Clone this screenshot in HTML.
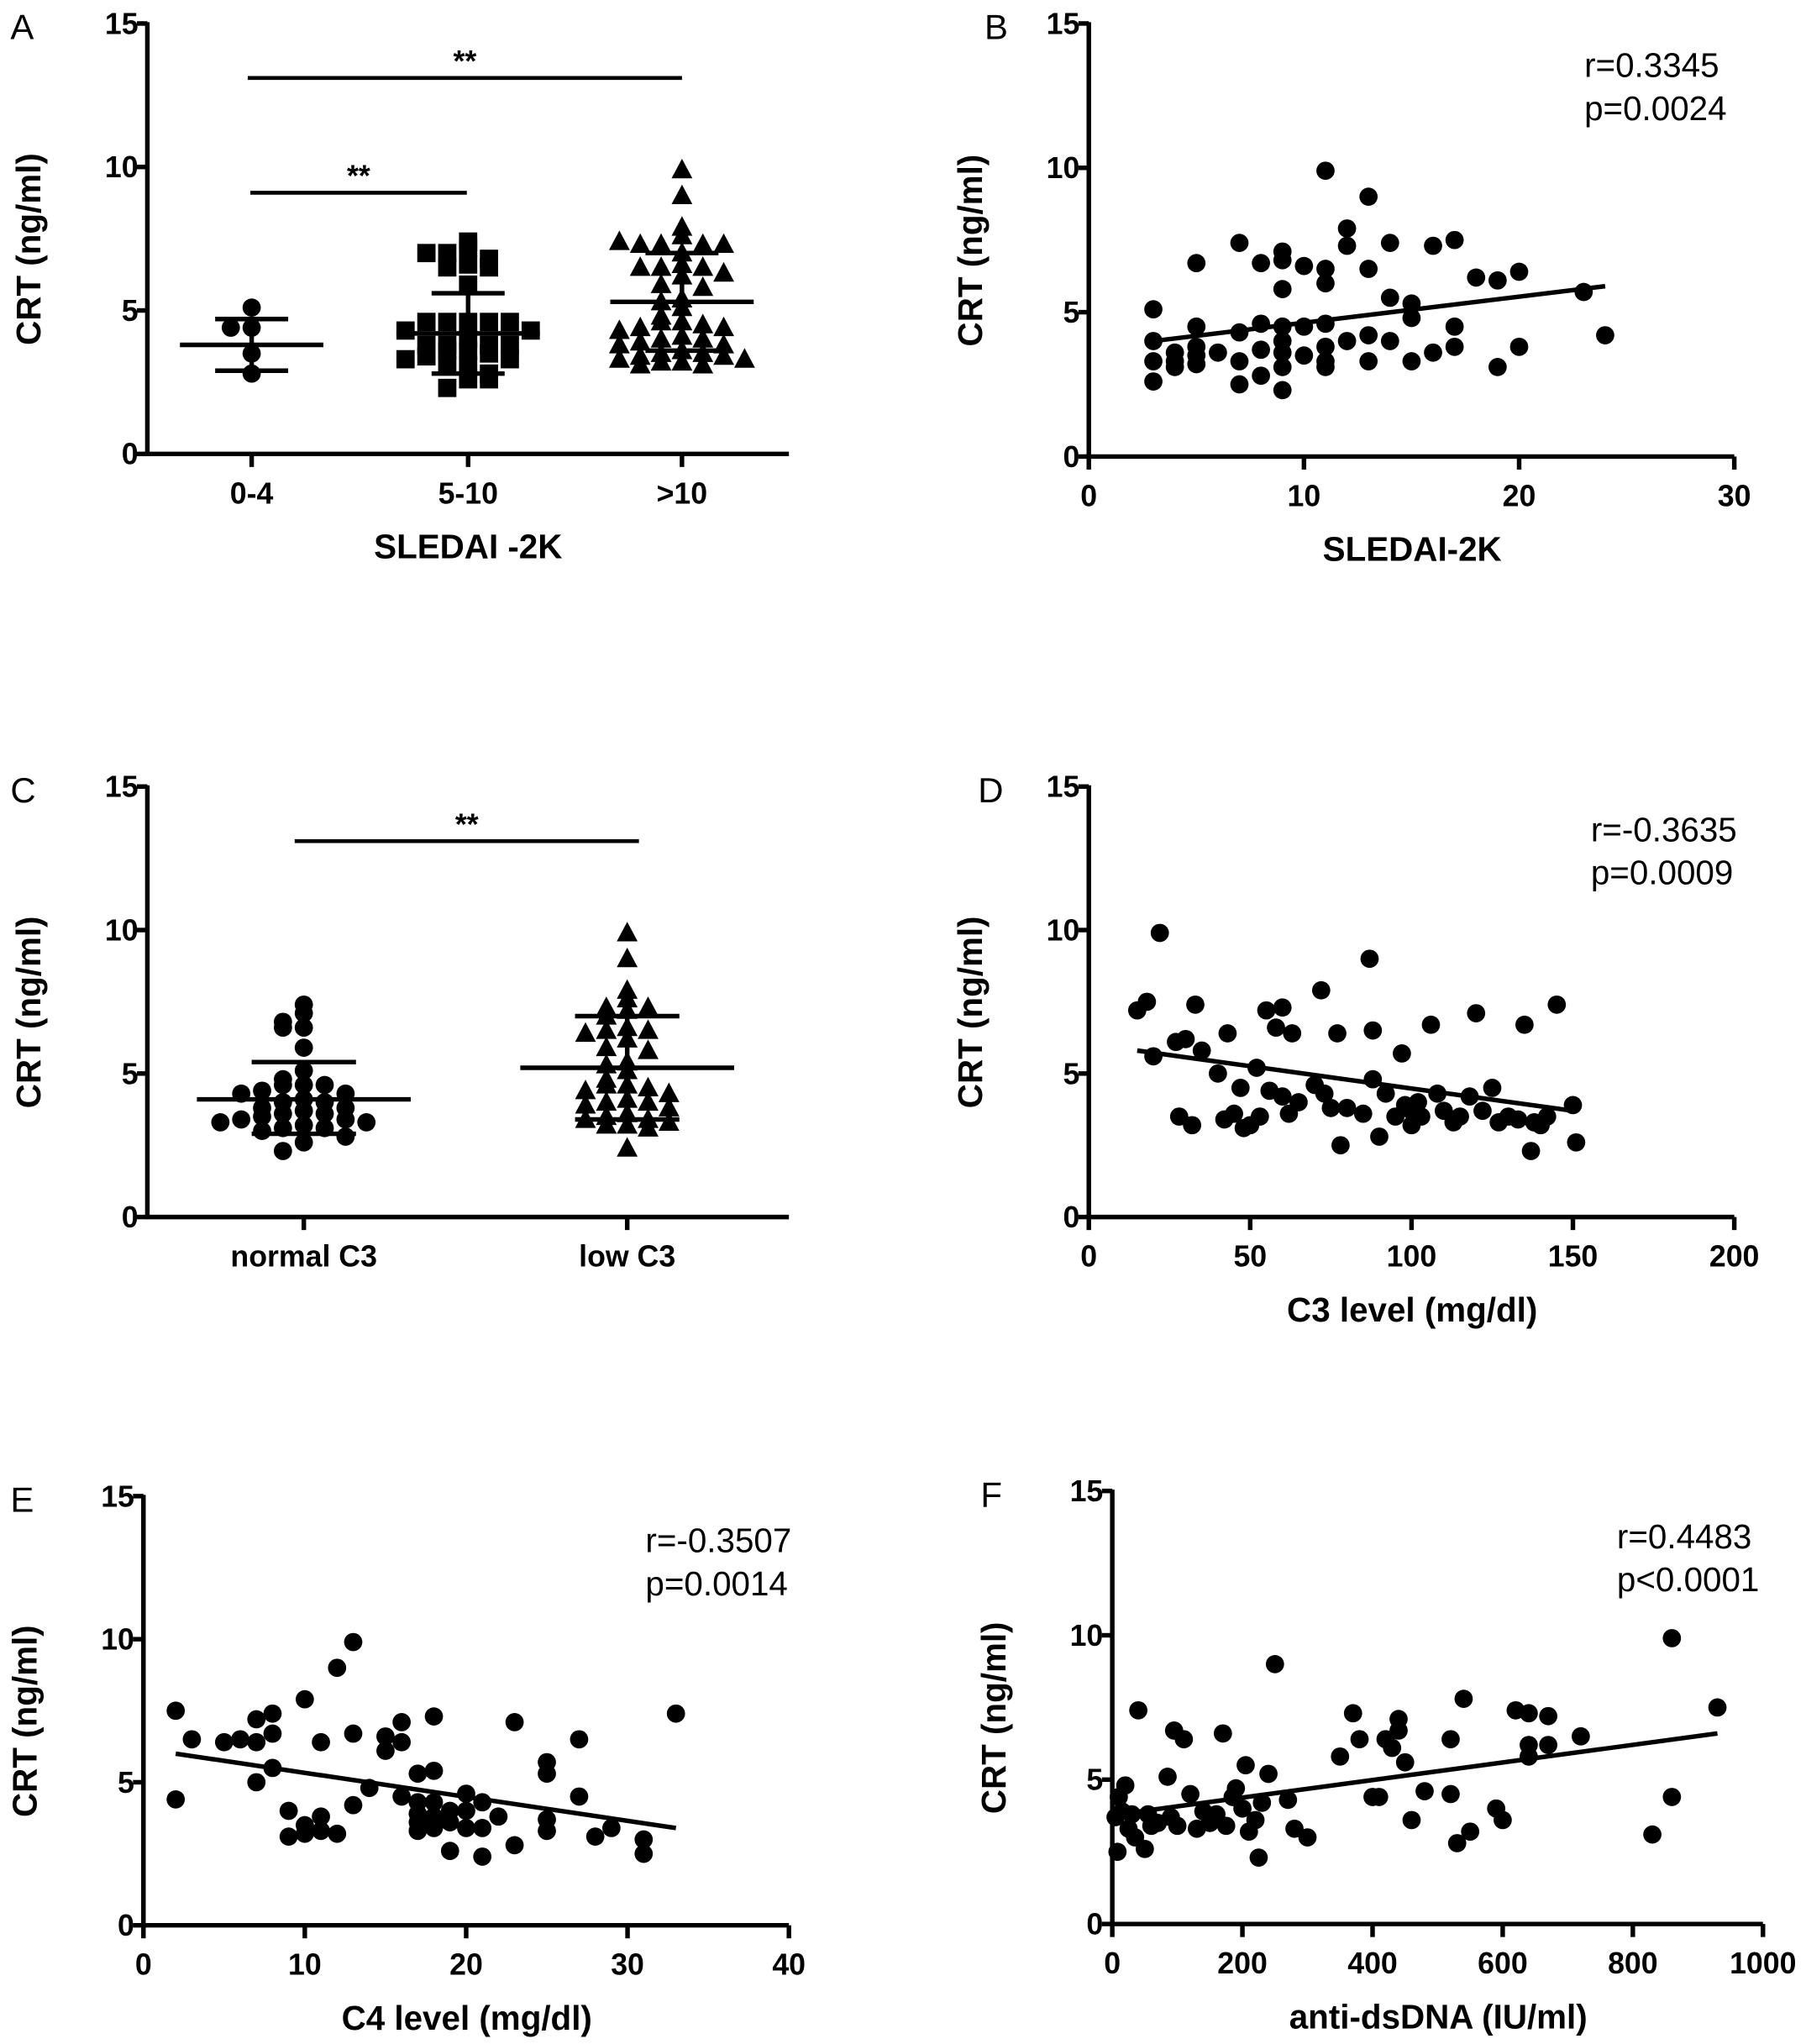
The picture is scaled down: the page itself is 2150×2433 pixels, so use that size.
<!DOCTYPE html>
<html><head><meta charset="utf-8">
<style>
html,body{margin:0;padding:0;background:#fff;}
svg{display:block;}
text{font-family:"Liberation Sans Narrow","Liberation Sans",sans-serif;fill:#000;}
.tk{font-weight:bold;font-size:23px;}
.tt{font-weight:bold;font-size:26px;}
.pl{font-size:27px;font-family:"Liberation Sans",sans-serif;}
.st{font-size:26px;}
</style></head>
<body>
<svg id="fig" width="2150" height="2433" viewBox="0 0 1385 1567" preserveAspectRatio="none" xmlns="http://www.w3.org/2000/svg"></svg>
<script>
// ---------- Data ----------
const aCategories = ["0-4","5-10",">10"];
const aGroup1 = [5.1,4.4,4.4,3.5,2.8];
const aGroup2 = [7.2,7.0,6.8,6.6,6.5,6.5,7.0,7.4,5.9,4.6,4.6,4.6,4.6,4.6,4.3,4.3,4.0,3.8,3.8,3.8,3.8,3.6,3.6,3.5,3.4,3.3,3.3,3.1,3.1,2.8,2.6,2.3,2.6];
const aGroup3 = [9.9,9.0,7.9,7.6,7.3,7.3,7.3,7.3,7.4,7.0,6.6,6.5,6.5,6.5,6.3,6.2,5.9,5.8,5.4,5.3,5.1,4.8,4.6,4.6,4.5,4.4,4.4,4.3,4.1,4.0,4.0,3.9,3.8,3.8,3.6,3.5,3.5,3.4,3.4,3.3,3.3,3.2,3.2,3.1,3.1];
const aMeans = [3.8,4.2,5.3];
const aSDHigh = [4.7,5.6,7.0];
const aSDLow = [2.9,2.8,3.6];

const cCategories = ["normal C3","low C3"];
const cGroup1 = [7.4,7.1,6.8,6.6,6.6,5.9,5.1,4.8,4.6,4.6,4.6,4.4,4.3,4.3,4.1,4.0,4.0,3.8,3.8,3.7,3.6,3.6,3.5,3.4,3.4,3.3,3.3,3.2,3.1,3.1,3.0,2.8,2.6,2.3];
const cGroup2 = [9.9,9.0,7.9,7.6,7.3,7.3,7.2,7.0,6.6,6.5,6.5,6.4,6.2,5.9,5.8,5.4,5.3,5.1,4.8,4.6,4.6,4.5,4.4,4.3,4.1,4.0,4.0,3.9,3.8,3.6,3.5,3.4,3.4,3.3,3.2,3.2,3.1,2.4];
const cMeans = [4.1,5.2];
const cSDHigh = [5.4,7.0];
const cSDLow = [2.9,3.4];

const bX = [3,3,3,3,4,4,4,5,5,5,5,5,6,7,7,7,7,8,8,8,8,9,9,9,9,9,9,9,9,10,10,10,11,11,11,11,11,11,11,12,12,12,13,13,13,13,14,14,14,15,15,15,16,16,17,17,17,18,19,19,20,20,23,24];
const bY = [5.1,4.0,3.3,2.6,3.6,3.3,3.1,6.7,4.5,3.8,3.5,3.2,3.6,7.4,4.3,3.3,2.5,6.7,4.6,3.7,2.8,7.1,6.8,5.8,4.5,4.0,3.6,3.1,2.3,6.6,4.5,3.5,9.9,6.5,6.0,4.6,3.8,3.3,3.1,7.9,7.3,4.0,9.0,6.5,4.2,3.3,7.4,5.5,4.0,5.3,4.8,3.3,7.3,3.6,7.5,4.5,3.8,6.2,6.1,3.1,6.4,3.8,5.7,4.2];
const bFit = [[3,4.0],[24,5.9]];

const dX = [15,18,22,20,27,28,30,32,33,35,40,42,43,45,47,48,50,52,53,55,56,58,60,60,62,63,65,70,72,73,75,77,78,80,85,87,88,88,90,92,95,97,98,100,100,102,103,106,108,110,113,115,118,120,122,125,127,130,133,135,137,138,140,142,145,150,151];
const dY = [7.2,7.5,9.9,5.6,6.1,3.5,6.2,3.2,7.4,5.8,5.0,3.4,6.4,3.6,4.5,3.1,3.2,5.2,3.5,7.2,4.4,6.6,7.3,4.2,3.6,6.4,4.0,4.6,7.9,4.3,3.8,6.4,2.5,3.8,3.6,9.0,6.5,4.8,2.8,4.3,3.5,5.7,3.9,3.7,3.2,4.0,3.5,6.7,4.3,3.7,3.3,3.5,4.2,7.1,3.7,4.5,3.3,3.5,3.4,6.7,2.3,3.3,3.2,3.5,7.4,3.9,2.6];
const dFit = [[15,5.8],[150,3.7]];

const eX = [2,2,3,5,6,7,7,7,8,8,8,9,9,10,10,10,11,11,11,12,12,13,13,13,14,15,15,16,16,16,17,17,17,17,17,18,18,18,18,18,19,19,19,20,20,20,21,21,21,22,23,23,25,25,25,25,27,27,28,29,31,31,33];
const eY = [7.5,4.4,6.5,6.4,6.5,7.2,5.0,6.4,7.4,6.7,5.5,4.0,3.1,3.5,3.2,7.9,6.4,3.8,3.3,3.2,9.0,9.9,6.7,4.2,4.8,6.6,6.1,7.1,6.4,4.5,5.3,4.3,3.9,3.6,3.3,7.3,5.4,4.3,3.8,3.4,4.0,3.6,2.6,4.6,4.0,3.4,4.3,3.4,2.4,3.8,7.1,2.8,5.7,5.3,3.3,3.7,6.5,4.5,3.1,3.4,3.0,2.5,7.4];
const eFit = [[2,6.0],[33,3.4]];

const fX = [5,8,10,15,20,25,30,35,40,50,55,60,70,85,90,95,100,110,120,130,140,150,160,170,175,185,190,200,205,210,220,225,230,240,250,270,280,300,350,370,380,400,410,420,430,440,440,450,460,480,520,520,530,540,550,590,600,620,640,640,640,670,670,720,830,860,860,930];
const fY = [3.7,2.5,4.4,3.9,4.8,3.3,3.8,3.0,7.4,2.6,3.8,3.4,3.5,5.1,3.7,6.7,3.4,6.4,4.5,3.3,3.9,3.5,3.8,6.6,3.4,4.4,4.7,4.0,5.5,3.2,3.6,2.3,4.2,5.2,9.0,4.3,3.3,3.0,5.8,7.3,6.4,4.4,4.4,6.4,6.1,7.1,6.7,5.6,3.6,4.6,6.4,4.5,2.8,7.8,3.2,4.0,3.6,7.4,7.3,6.2,5.8,7.2,6.2,6.5,3.1,4.4,9.9,7.5];
const fFit = [[10,3.8],[930,6.6]];

const yTicks = [0,5,10,15];

// ---------- Rendering ----------
const NS = "http://www.w3.org/2000/svg";
const svg = document.getElementById("fig");
function mk(tag, attrs, parent){
  const e = document.createElementNS(NS, tag);
  for (const k in attrs) e.setAttribute(k, attrs[k]);
  (parent||svg).appendChild(e);
  return e;
}
function txt(s, x, y, cls, anchor, parent){
  const t = mk("text", {x:x, y:y, class:cls, "text-anchor":anchor||"middle"}, parent);
  t.textContent = s;
  return t;
}

function panel(cfg){
  const g = mk("g", {});
  
  
  const yS = v => cfg.y0 - (cfg.y0 - cfg.y15) * v / 15;
  const xS = cfg.xMax !== undefined ? (v => cfg.ax + (cfg.axEnd - cfg.ax) * v / cfg.xMax) : null;
  const axes = mk("g", {stroke:"#000","stroke-width":3.5,fill:"none"}, g);
  
  
  mk("line", {x1:cfg.ax, y1:cfg.y15-1, x2:cfg.ax, y2:cfg.y0+1}, axes);
  mk("line", {x1:cfg.ax-1, y1:cfg.y0, x2:cfg.axEnd, y2:cfg.y0}, axes);
  yTicks.forEach(v => {
    mk("line", {x1:cfg.ax-8, y1:yS(v), x2:cfg.ax, y2:yS(v)}, axes);
    const t = txt(String(v), cfg.ax-7, yS(v)+8, "tk", "end", g);
    
    
  });
  if (xS){
    cfg.xTicks.forEach(v => {
      mk("line", {x1:xS(v), y1:cfg.y0, x2:xS(v), y2:cfg.y0+10}, axes);
      const t = txt(String(v), xS(v), cfg.y0+38, "tk", "middle", g);
      
      
    });
  } else {
    cfg.cats.forEach((c,i) => {
      const cx = cfg.catX[i];
      mk("line", {x1:cx, y1:cfg.y0, x2:cx, y2:cfg.y0+10}, axes);
      const t = txt(c, cx, cfg.y0+38, "tk", "middle", g);
      
      
    });
  }
  const yt = txt("CRT (ng/ml)", 0, 0, "tt", "middle", g);
  yt.setAttribute("transform", `translate(${cfg.ax-82},${(cfg.y0+cfg.y15)/2+8}) rotate(-90)`);
  
  
  if (cfg.xTitle){
    const xt = txt(cfg.xTitle, cfg.xTitleX, cfg.y0+80, "tt", "middle", g);
    
    
  }
  const pl = txt(cfg.letter, cfg.letterX, cfg.y15+12, "pl", "start", g);
  
  

  const marks = mk("g", {fill:"#000"}, g);
  
  
  if (xS){
    cfg.xs.forEach((xv,i) => {
      const c = mk("circle", {cx:xS(xv), cy:yS(cfg.ys[i]), r:7}, marks);
      
      
    });
    const fl = mk("line", {x1:xS(cfg.fit[0][0]), y1:yS(cfg.fit[0][1]), x2:xS(cfg.fit[1][0]), y2:yS(cfg.fit[1][1]), stroke:"#000","stroke-width":3.5}, g);
    
    
    const r = txt(cfg.stats[0], cfg.statX, cfg.statY, "st", "start", g);
    
    
    const p = txt(cfg.stats[1], cfg.statX, cfg.statY+33, "st", "start", g);
    
    
  } else {
    cfg.groups.forEach((vals, gi) => {
      const cx = cfg.catX[gi];
      const shape = cfg.shapes[gi];
      const bins = {};
      vals.forEach(v => {
        const key = Math.round(v / 0.5);
        bins[key] = (bins[key] || 0) + 1;
        const k = bins[key] - 1;
        const off = (k % 2 === 0 ? 1 : -1) * Math.ceil(k / 2) * 16;
        const px = cx + off, py = yS(v);
        let m;
        if (shape === "circle") m = mk("circle", {cx:px, cy:py, r:7}, marks);
        else if (shape === "square") m = mk("rect", {x:px-7, y:py-7, width:14, height:14}, marks);
        else m = mk("polygon", {points:`${px},${py-8.5} ${px-8},${py+6.5} ${px+8},${py+6.5}`}, marks);
        
        
      });
      const eb = mk("g", {stroke:"#000","stroke-width":3.5}, g);
      
      
      mk("line", {x1:cx-cfg.meanW, y1:yS(cfg.means[gi]), x2:cx+cfg.meanW, y2:yS(cfg.means[gi])}, eb);
      mk("line", {x1:cx, y1:yS(cfg.sdH[gi]), x2:cx, y2:yS(cfg.sdL[gi])}, eb);
      mk("line", {x1:cx-cfg.sdW, y1:yS(cfg.sdH[gi]), x2:cx+cfg.sdW, y2:yS(cfg.sdH[gi])}, eb);
      mk("line", {x1:cx-cfg.sdW, y1:yS(cfg.sdL[gi]), x2:cx+cfg.sdW, y2:yS(cfg.sdL[gi])}, eb);
    });
    cfg.sig.forEach(s => {
      const l = mk("line", {x1:s[0], y1:yS(s[2]), x2:s[1], y2:yS(s[2]), stroke:"#000","stroke-width":3}, g);
      
      
      const t = txt("**", (s[0]+s[1])/2, yS(s[2])-5, "tk", "middle", g);
      
      
    });
  }
}

panel({name:"panel-a", letter:"A", letterX:8, ax:113, axEnd:605, y0:348, y15:18,
  cats:aCategories, catX:[193,359,523], groups:[aGroup1,aGroup2,aGroup3], shapes:["circle","square","triangle"],
  means:aMeans, sdH:aSDHigh, sdL:aSDLow, meanW:55, sdW:28,
  sig:[[190,523,13.1],[192,358,9.1]], xTitle:"SLEDAI -2K", xTitleX:359});
panel({name:"panel-b", letter:"B", letterX:755, ax:835, axEnd:1330, y0:350, y15:18, xMax:30, xTicks:[0,10,20,30],
  xs:bX, ys:bY, fit:bFit, stats:["r=0.3345","p=0.0024"], statX:1215, statY:59, xTitle:"SLEDAI-2K", xTitleX:1083});
panel({name:"panel-c", letter:"C", letterX:8, ax:113, axEnd:605, y0:933, y15:603,
  cats:cCategories, catX:[233,481], groups:[cGroup1,cGroup2], shapes:["circle","triangle"],
  means:cMeans, sdH:cSDHigh, sdL:cSDLow, meanW:82, sdW:40,
  sig:[[226,490,13.1]], xTitle:"", xTitleX:359});
panel({name:"panel-d", letter:"D", letterX:750, ax:835, axEnd:1330, y0:933, y15:603, xMax:200, xTicks:[0,50,100,150,200],
  xs:dX, ys:dY, fit:dFit, stats:["r=-0.3635","p=0.0009"], statX:1220, statY:645, xTitle:"C3 level (mg/dl)", xTitleX:1083});
panel({name:"panel-e", letter:"E", letterX:8, ax:110, axEnd:605, y0:1476, y15:1147, xMax:40, xTicks:[0,10,20,30,40],
  xs:eX, ys:eY, fit:eFit, stats:["r=-0.3507","p=0.0014"], statX:495, statY:1190, xTitle:"C4 level (mg/dl)", xTitleX:358});
panel({name:"panel-f", letter:"F", letterX:752, ax:853, axEnd:1352, y0:1475, y15:1143, xMax:1000, xTicks:[0,200,400,600,800,1000],
  xs:fX, ys:fY, fit:fFit, stats:["r=0.4483","p<0.0001"], statX:1240, statY:1187, xTitle:"anti-dsDNA (IU/ml)", xTitleX:1103});
</script>
</body></html>
